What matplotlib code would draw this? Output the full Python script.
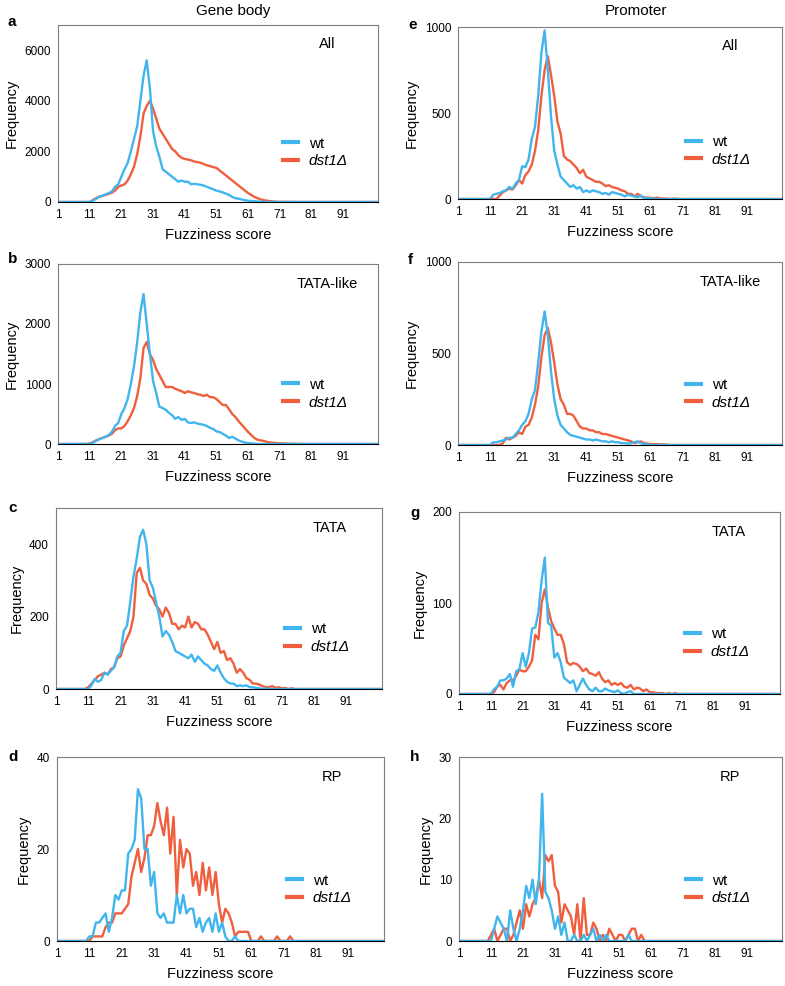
import matplotlib.pyplot as plt
import numpy as np

plt.rcParams['font.family'] = ['Liberation Sans', 'DejaVu Sans']

# Frequencies, listed from fuzziness score 10 upward
# (scores past the end of each list are zero)
START = 10
N_SCORES = 102

gene_all_wt = [0, 0, 50, 120, 200, 250, 300, 350, 420, 600, 700, 1000, 1300, 1550, 2000, 2500,
               3000, 4000, 5000, 5600, 4500, 2800, 2200, 1800, 1300, 1200, 1100, 1000, 900, 800,
               850, 800, 800, 700, 720, 700, 680, 650, 600, 550, 500, 450, 420, 380, 330, 280,
               200, 150, 130, 100, 70, 50, 40, 30, 20, 10, 5]
gene_all_dst1 = [0, 0, 80, 150, 210, 240, 280, 320, 370, 450, 600, 650, 700, 850, 1100, 1400,
                 1900, 2600, 3500, 3800, 4000, 3700, 3300, 2900, 2700, 2500, 2300, 2100, 2000, 1850,
                 1750, 1700, 1680, 1650, 1600, 1580, 1550, 1500, 1450, 1420, 1380, 1350, 1250,
                 1150, 1050, 950, 850, 750, 650, 550, 450, 350, 280, 200, 150, 100, 70, 50, 30, 20,
                 10, 5, 5, 5, 5, 5]

gene_tatalike_wt = [0, 0, 20, 50, 80, 100, 120, 150, 200, 300, 350, 500, 600, 750, 1000, 1300,
                    1700, 2200, 2500, 2000, 1500, 1050, 850, 620, 600, 570, 520, 480, 420, 450,
                    400, 420, 360, 350, 360, 340, 330, 320, 300, 270, 250, 210, 200, 170, 140, 100,
                    120, 90, 60, 40, 25, 15, 10, 5]
gene_tatalike_dst1 = [0, 10, 30, 60, 80, 100, 120, 140, 170, 230, 260, 260, 300, 380, 480, 600,
                      800, 1100, 1600, 1700, 1500, 1400, 1250, 1150, 1050, 950, 950, 950, 920,
                      900, 880, 850, 880, 860, 850, 830, 820, 800, 820, 780, 780, 750, 700, 650,
                      650, 580, 500, 450, 380, 320, 260, 200, 150, 100, 70, 60, 50, 35, 25, 20,
                      15, 10, 10, 8, 5, 5, 3]

gene_tata_wt = [0, 0, 10, 28, 20, 25, 45, 40, 50, 60, 90, 100, 160, 175, 240, 310, 360, 420,
                440, 400, 300, 280, 240, 200, 145, 160, 150, 130, 105, 100, 95, 90, 85, 95, 75,
                90, 80, 70, 65, 55, 50, 65, 45, 30, 20, 15, 15, 8, 10, 8, 10, 5, 5, 3, 2, 0, 2]
gene_tata_dst1 = [0, 5, 15, 25, 35, 40, 45, 40, 55, 60, 85, 90, 120, 140, 160, 200, 320, 335,
                  300, 290, 260, 250, 230, 220, 200, 225, 210, 180, 180, 165, 175, 170, 200, 170,
                  185, 180, 165, 165, 150, 130, 110, 130, 100, 105, 80, 85, 70, 45, 55, 45, 30,
                  25, 15, 15, 12, 8, 5, 5, 8, 3, 5, 2, 3, 0, 2]

gene_rp_wt = [0, 1, 1, 4, 4, 5, 6, 2, 5, 10, 9, 11, 11, 19, 20, 22, 33, 31, 20, 20, 12, 15, 6,
              5, 6, 4, 4, 4, 10, 6, 10, 6, 7, 7, 3, 5, 2, 4, 5, 2, 6, 2, 4, 1, 0, 0, 1]
gene_rp_dst1 = [0, 0, 1, 1, 1, 1, 3, 4, 4, 6, 6, 6, 7, 8, 14, 17, 20, 15, 18, 23, 23, 25, 30,
                26, 23, 29, 19, 27, 10, 22, 16, 20, 19, 12, 15, 10, 17, 11, 16, 10, 15, 8, 4, 7,
                6, 4, 1, 2, 2, 2, 2, 0, 0, 0, 1, 0, 0, 0, 0, 1, 0, 0, 0, 1]

prom_all_wt = [0, 0, 25, 30, 35, 45, 50, 70, 60, 90, 110, 190, 185, 230, 350, 420, 600, 850,
               980, 750, 480, 280, 200, 130, 110, 90, 70, 80, 60, 70, 40, 50, 40, 50, 45, 40,
               30, 35, 25, 40, 35, 30, 25, 15, 25, 20, 15, 10, 20, 5, 5, 3]
prom_all_dst1 = [0, 0, 0, 0, 20, 40, 50, 60, 55, 80, 110, 90, 140, 160, 200, 280, 400, 600, 750,
                 830, 720, 600, 450, 380, 250, 230, 220, 200, 180, 150, 170, 130, 120, 110, 100,
                 100, 90, 75, 80, 70, 65, 60, 50, 45, 30, 30, 15, 30, 15, 10, 8, 6, 4, 8, 4, 3,
                 2, 0, 2, 2]

prom_tatalike_wt = [0, 0, 15, 15, 20, 25, 30, 40, 40, 60, 80, 110, 130, 170, 250, 300, 450, 620,
                    730, 600, 400, 250, 160, 110, 90, 70, 55, 50, 45, 40, 35, 30, 30, 25, 30,
                    25, 20, 20, 15, 20, 15, 15, 10, 10, 8, 10, 15, 20, 10, 5, 3]
prom_tatalike_dst1 = [0, 0, 0, 0, 0, 10, 40, 30, 40, 50, 70, 60, 100, 110, 150, 220, 320, 480,
                      600, 640, 560, 450, 330, 250, 220, 170, 170, 160, 130, 100, 90, 90, 80, 80,
                      70, 70, 60, 60, 55, 50, 45, 40, 35, 30, 25, 20, 10, 15, 20, 10, 8, 5, 5,
                      5, 3, 3, 2]

prom_tata_wt = [0, 0, 5, 8, 15, 15, 17, 22, 8, 25, 27, 45, 30, 45, 72, 73, 90, 125, 150, 78, 75,
                40, 45, 35, 18, 15, 12, 15, 3, 10, 17, 10, 5, 3, 7, 3, 3, 6, 4, 3, 2, 4, 1, 0,
                2, 3]
prom_tata_dst1 = [0, 0, 2, 8, 10, 5, 12, 15, 15, 20, 27, 25, 25, 30, 37, 65, 60, 100, 115, 95,
                  80, 72, 65, 65, 55, 35, 32, 34, 33, 30, 25, 28, 23, 22, 20, 24, 17, 13, 15, 10,
                  12, 10, 12, 8, 7, 10, 5, 7, 6, 3, 5, 2, 2, 1, 1, 1, 0, 1, 0, 1]

prom_rp_wt = [0, 0, 2, 4, 3, 2, 0, 5, 2, 0, 2, 5, 9, 7, 10, 6, 10, 24, 8, 7, 5, 2, 4, 1, 3, 0,
              0, 1, 0, 0, 1, 0, 1, 2, 0, 1, 0, 1, 0, 0, 0, 0, 0, 0, 1]
prom_rp_dst1 = [0, 1, 2, 0, 1, 2, 2, 0, 1, 3, 5, 2, 6, 4, 6, 7, 10, 7, 14, 13, 14, 9, 8, 3, 6,
                5, 4, 1, 6, 0, 7, 1, 1, 3, 2, 0, 1, 0, 2, 1, 0, 1, 1, 0, 1, 2, 2, 0, 1]

panel_letters = ['a', 'b', 'c', 'd', 'e', 'f', 'g', 'h']
panel_groups = ['All', 'TATA-like', 'TATA', 'RP', 'All', 'TATA-like', 'TATA', 'RP']
panel_wt = [gene_all_wt, gene_tatalike_wt, gene_tata_wt, gene_rp_wt,
            prom_all_wt, prom_tatalike_wt, prom_tata_wt, prom_rp_wt]
panel_dst1 = [gene_all_dst1, gene_tatalike_dst1, gene_tata_dst1, gene_rp_dst1,
              prom_all_dst1, prom_tatalike_dst1, prom_tata_dst1, prom_rp_dst1]
panel_ymax = [7000, 3000, 500, 40, 1000, 1000, 200, 30]
panel_yticks = [[0, 2000, 4000, 6000], [0, 1000, 2000, 3000], [0, 200, 400], [0, 20, 40],
                [0, 500, 1000], [0, 500, 1000], [0, 100, 200], [0, 10, 20, 30]]
xtick_labels = [1, 11, 21, 31, 41, 51, 61, 71, 81, 91]
column_titles = ['Gene body', 'Promoter']

wt_color = '#40b5ee'
dst1_color = '#ef5f3d'
W, H = 785, 986

# axes boxes in pixels: left, top, right, bottom
boxes = [(58, 25, 378, 202), (58, 264, 378, 444), (56, 508, 382, 689), (57, 757, 384, 941),
         (458, 27, 782, 199), (458, 262, 782, 445), (459, 512, 780, 694), (459, 757, 782, 941)]
letter_pos = [(8, 22), (8, 259), (8, 508), (8, 757), (408, 25), (408, 260), (410, 513), (410, 757)]


def pad(vals):
    y = np.zeros(N_SCORES)
    y[START - 1:START - 1 + len(vals)] = vals
    return y


scores = np.arange(1, N_SCORES + 1)

fig = plt.figure(figsize=(W / 100, H / 100), dpi=100)

for i in range(8):
    l, t, r, b = boxes[i]
    ax = fig.add_axes([l / W, 1 - b / H, (r - l) / W, (b - t) / H])
    ax.plot(scores, pad(panel_dst1[i]), color=dst1_color, lw=1.7, label='dst1Δ')
    ax.plot(scores, pad(panel_wt[i]), color=wt_color, lw=1.7, label='wt')
    ax.set_xlim(1, N_SCORES)
    ax.set_ylim(0, panel_ymax[i])
    ax.set_xticks(xtick_labels)
    ax.set_yticks(panel_yticks[i])
    ax.tick_params(length=0, labelsize=8.5, pad=5)
    for s in ['top', 'right', 'left']:
        ax.spines[s].set_color('#7f7f7f')
        ax.spines[s].set_linewidth(0.8)
    ax.spines['bottom'].set_color('black')
    ax.spines['bottom'].set_linewidth(0.8)
    ax.set_xlabel('Fuzziness score', fontsize=10.5, labelpad=5)
    ax.set_ylabel('Frequency', fontsize=10.5, labelpad=4)
    ax.text(0.84, 0.89, panel_groups[i], transform=ax.transAxes, ha='center', va='center',
            fontsize=10.5)
    handles, labels = ax.get_legend_handles_labels()
    ax.legend(handles[::-1], ['wt', 'dst1Δ'], loc='center left', bbox_to_anchor=(0.66, 0.28),
              frameon=False, fontsize=11, handlelength=1.0, handletextpad=0.7, labelspacing=0.25)
    leg = ax.get_legend()
    leg.get_texts()[1].set_style('italic')
    for ln in leg.get_lines():
        ln.set_linewidth(3)
    lx, ly = letter_pos[i]
    fig.text(lx / W, 1 - ly / H, panel_letters[i], fontsize=11, fontweight='bold',
             ha='left', va='center')

fig.text(233 / W, 1 - 11 / H, column_titles[0], fontsize=11, ha='center', va='center')
fig.text(636 / W, 1 - 11 / H, column_titles[1], fontsize=11, ha='center', va='center')

fig.savefig('out.png', dpi=100)
